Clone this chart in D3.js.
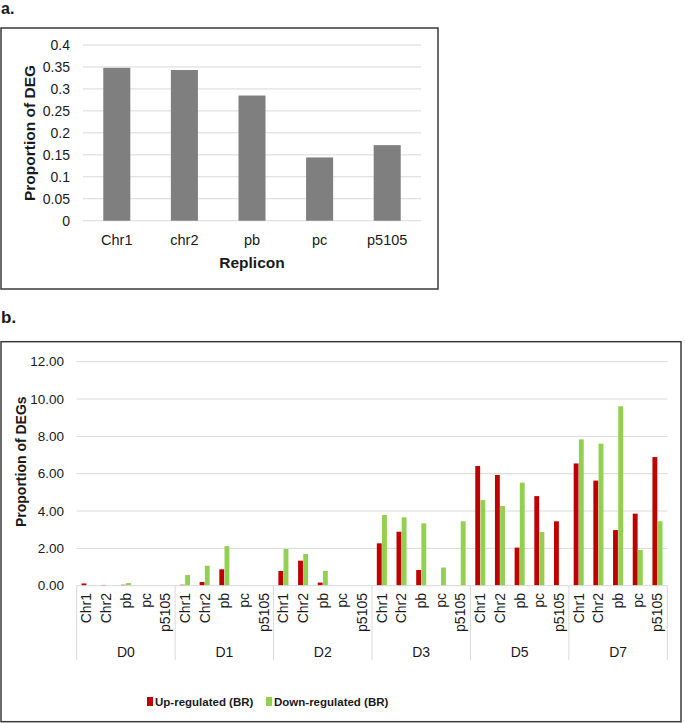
<!DOCTYPE html>
<html>
<head>
<meta charset="utf-8">
<script src="https://cdn.jsdelivr.net/npm/d3@7"></script>
<style>
  html, body { margin: 0; padding: 0; background: #fff; }
  svg { display: block; }
  text { font-family: "Liberation Sans", Arial, sans-serif; fill: #1a1a1a; }
</style>
</head>
<body>
<svg id="chart" width="685" height="723"></svg>
<script>
// ---------- Panel a data ----------
const repliconsA = ["Chr1", "chr2", "pb", "pc", "p5105"];
const proportionDEG = [0.348, 0.343, 0.285, 0.144, 0.172];
const ticksA = [0, 0.05, 0.1, 0.15, 0.2, 0.25, 0.3, 0.35, 0.4];

// ---------- Panel b data ----------
const days = ["D0", "D1", "D2", "D3", "D5", "D7"];
const repliconsB = ["Chr1", "Chr2", "pb", "pc", "p5105"];
// values ordered day by day, replicon by replicon
const upRegulated = [
  0.12, 0.04, 0.05, 0, 0,
  0.05, 0.20, 0.88, 0, 0,
  0.79, 1.34, 0.17, 0, 0,
  2.27, 2.89, 0.84, 0, 0,
  6.41, 5.93, 2.04, 4.80, 3.45,
  6.55, 5.63, 2.98, 3.86, 6.89
];
const downRegulated = [
  0, 0, 0.14, 0, 0,
  0.57, 1.07, 2.12, 0, 0,
  1.97, 1.70, 0.79, 0, 0,
  3.79, 3.66, 3.34, 0.97, 3.45,
  4.59, 4.27, 5.52, 2.88, 0,
  7.84, 7.61, 9.61, 1.91, 3.45
];
const ticksB = [0, 2, 4, 6, 8, 10, 12];
const seriesNames = ["Up-regulated (BR)", "Down-regulated (BR)"];

const svg = d3.select("#chart");
const colGrid = "#d9d9d9";
const colFrame = "#3a3a3a";
const colGray = "#7f7f7f";
const colUp = "#c00000";
const colDown = "#92d050";

// ================= Panel a =================
svg.append("text").attr("x", 1).attr("y", 14)
  .style("font-size", "16px").style("font-weight", "bold").text("a.");

svg.append("rect").attr("x", 1).attr("y", 28).attr("width", 437).attr("height", 261)
  .attr("fill", "none").attr("stroke", colFrame).attr("stroke-width", 1.5);

const xA = d3.scaleBand().domain(repliconsA).range([83, 421]).paddingInner(0.6).paddingOuter(0.3);
const yA = d3.scaleLinear().domain([0, 0.4]).range([220.7, 45]);

const gA = svg.append("g");
gA.selectAll("line.grid").data(ticksA).join("line")
  .attr("x1", 83).attr("x2", 421)
  .attr("y1", d => yA(d)).attr("y2", d => yA(d))
  .attr("stroke", colGrid).attr("stroke-width", 1);

gA.selectAll("text.tick").data(ticksA).join("text")
  .attr("x", 70).attr("y", d => yA(d)).attr("dy", "0.35em")
  .attr("text-anchor", "end").style("font-size", "14px")
  .text(d => d3.format("")(+d.toFixed(2)));

gA.selectAll("rect.bar").data(repliconsA).join("rect")
  .attr("x", d => xA(d)).attr("width", xA.bandwidth())
  .attr("y", (d, i) => yA(proportionDEG[i]))
  .attr("height", (d, i) => yA(0) - yA(proportionDEG[i]))
  .attr("fill", colGray);

gA.selectAll("text.cat").data(repliconsA).join("text")
  .attr("x", d => xA(d) + xA.bandwidth() / 2).attr("y", 245)
  .attr("text-anchor", "middle").style("font-size", "14.5px").text(d => d);

gA.append("text").attr("x", 252).attr("y", 268).attr("text-anchor", "middle")
  .style("font-size", "15.5px").style("font-weight", "bold").text("Replicon");

gA.append("text").attr("transform", "translate(30,133) rotate(-90)")
  .attr("dy", "0.35em").attr("text-anchor", "middle")
  .style("font-size", "15.5px").style("font-weight", "bold").text("Proportion of DEG");

// ================= Panel b =================
svg.append("text").attr("x", 1).attr("y", 323)
  .style("font-size", "17px").style("font-weight", "bold").text("b.");

svg.append("rect").attr("x", 1).attr("y", 341.7).attr("width", 680).attr("height", 380)
  .attr("fill", "none").attr("stroke", colFrame).attr("stroke-width", 1.5);

const keys = [];
days.forEach(d => repliconsB.forEach(r => keys.push(d + "|" + r)));

const plotL = 76.7, plotR = 667.3;
const xB = d3.scaleBand().domain(keys).range([plotL, plotR]).paddingInner(0.49).paddingOuter(0.245);
const xSub = d3.scaleBand().domain(seriesNames).range([0, xB.bandwidth()]).paddingInner(0.06);
const yB = d3.scaleLinear().domain([0, 12]).range([585.7, 361.7]);
const xDay = d3.scaleBand().domain(days).range([plotL, plotR]);

const gB = svg.append("g");
gB.selectAll("line.grid").data(ticksB.filter(d => d > 0)).join("line")
  .attr("x1", plotL).attr("x2", plotR)
  .attr("y1", d => yB(d)).attr("y2", d => yB(d))
  .attr("stroke", colGrid).attr("stroke-width", 1);

gB.selectAll("text.tick").data(ticksB).join("text")
  .attr("x", 64).attr("y", d => yB(d)).attr("dy", "0.35em")
  .attr("text-anchor", "end").style("font-size", "13.5px")
  .text(d => d3.format(".2f")(d));

// bars
const barData = [];
keys.forEach((k, i) => {
  barData.push({ key: k, s: seriesNames[0], v: upRegulated[i], c: colUp });
  barData.push({ key: k, s: seriesNames[1], v: downRegulated[i], c: colDown });
});
gB.selectAll("rect.bar").data(barData.filter(d => d.v > 0)).join("rect")
  .attr("x", d => xB(d.key) + xSub(d.s)).attr("width", xSub.bandwidth())
  .attr("y", d => yB(d.v)).attr("height", d => yB(0) - yB(d.v))
  .attr("fill", d => d.c);

// x axis line and group separators
gB.append("line").attr("x1", plotL).attr("x2", plotR)
  .attr("y1", yB(0)).attr("y2", yB(0)).attr("stroke", colGrid).attr("stroke-width", 1);
const seps = days.map(d => xDay(d)).concat([plotR]);
gB.selectAll("line.sep").data(seps).join("line")
  .attr("x1", d => d).attr("x2", d => d)
  .attr("y1", yB(0)).attr("y2", 660)
  .attr("stroke", colGrid).attr("stroke-width", 1);

// category labels (rotated)
gB.selectAll("text.cat").data(keys).join("text")
  .attr("transform", d => `translate(${xB(d) + xB.bandwidth() / 2},593) rotate(-90)`)
  .attr("dy", "0.35em").attr("text-anchor", "end")
  .style("font-size", "14px").text(d => d.split("|")[1]);

// day labels
gB.selectAll("text.day").data(days).join("text")
  .attr("x", d => xDay(d) + xDay.bandwidth() / 2).attr("y", 656.5)
  .attr("text-anchor", "middle").style("font-size", "14px").text(d => d);

// y title
gB.append("text").attr("transform", "translate(21,461.7) rotate(-90)")
  .attr("dy", "0.35em").attr("text-anchor", "middle")
  .style("font-size", "14px").style("font-weight", "bold").text("Proportion of DEGs");

// legend
const legendX = [147, 266];
const legColors = [colUp, colDown];
const leg = gB.selectAll("g.leg").data(seriesNames).join("g")
  .attr("transform", (d, i) => `translate(${legendX[i]},0)`);
leg.append("rect").attr("x", 0).attr("y", 697).attr("width", 6).attr("height", 9)
  .attr("fill", (d, i) => legColors[i]);
leg.append("text").attr("x", 8).attr("y", 705.5)
  .style("font-size", "11.5px").style("font-weight", "bold").text(d => d);
</script>
</body>
</html>
